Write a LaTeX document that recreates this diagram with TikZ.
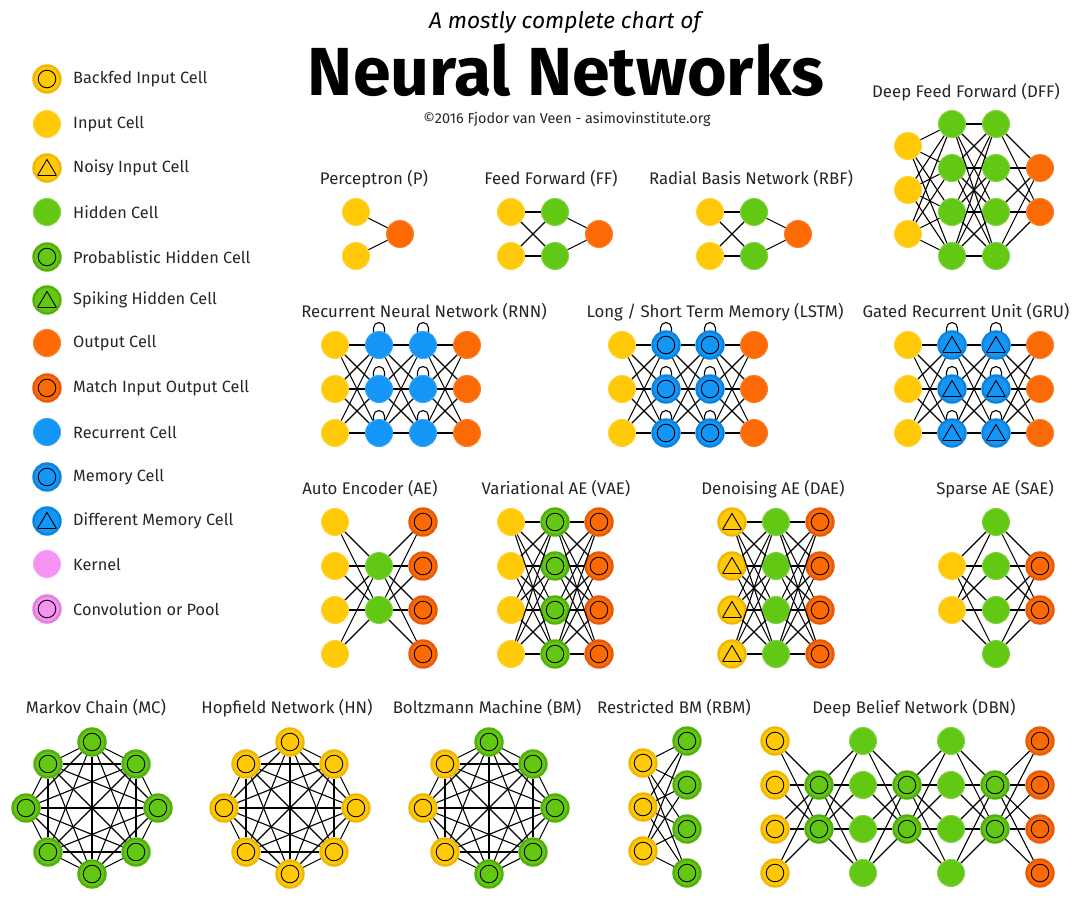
\documentclass[tikz,border=0pt]{standalone}
\usepackage{fontspec}
\setmainfont{Fira Sans}
\usetikzlibrary{backgrounds,calc}
\definecolor{cY}{HTML}{FFC908}
\definecolor{cYd}{HTML}{F0B800}
\definecolor{cG}{HTML}{62C814}
\definecolor{cGd}{HTML}{52B00C}
\definecolor{cO}{HTML}{FC6A05}
\definecolor{cOd}{HTML}{E85A08}
\definecolor{cB}{HTML}{1496F6}
\definecolor{cBd}{HTML}{0A84E0}
\definecolor{cP}{HTML}{F693F2}
\definecolor{cPd}{HTML}{E47FE0}
\tikzset{
  cell/.style={circle, minimum size=27pt, inner sep=0pt, line width=1pt},
  ringin/.style={path picture={\draw[line width=0.9pt,black] (path picture bounding box.center) circle (8.8pt);}},
  triin/.style={path picture={\draw[line width=0.9pt,black,line join=miter] ($(path picture bounding box.center)+(0pt,8.5pt)$) -- ++(-9.5pt,-16pt) -- ++(19pt,0pt) -- cycle;}},
  inp/.style={cell, fill=cY, draw=cY!80!white},
  bfin/.style={cell, fill=cY, draw=cYd, line width=2.4pt, ringin},
  noisy/.style={cell, fill=cY, draw=cYd, line width=2.4pt, triin},
  hid/.style={cell, fill=cG, draw=cG!80!white},
  prob/.style={cell, fill=cG, draw=cGd, line width=2.4pt, ringin},
  spike/.style={cell, fill=cG, draw=cGd, line width=2.4pt, triin},
  outc/.style={cell, fill=cO, draw=cO!85!white},
  match/.style={cell, fill=cO, draw=cOd, line width=2.4pt, ringin},
  rec/.style={cell, fill=cB, draw=cB!85!white},
  mem/.style={cell, fill=cB, draw=cBd, line width=2.4pt, ringin},
  dmem/.style={cell, fill=cB, draw=cBd, line width=2.4pt, triin},
  kern/.style={cell, fill=cP, draw=cP!85!white},
  conv/.style={cell, fill=cP, draw=cPd, line width=2.4pt, ringin},
  edge/.style={draw=black, line width=1.1pt},
  lbl/.style={font=\fontsize{16.3}{19}\selectfont, text=black!85, inner sep=0pt},
  ttl/.style={font=\fontsize{16.8}{19}\selectfont, text=black!85, inner sep=0pt},
}
\newcommand\layer[4]{\foreach \yy [count=\ii] in {#4} {\node[#2] (#1\ii) at (#3,\yy) {};}}
\newcommand\link[4]{\foreach \ii in {1,...,#2} {\foreach \jj in {1,...,#4} {\draw[edge] (#1\ii) -- (#3\jj);}}}
\newcommand\full[1]{\foreach \ii in {1,...,7} {\pgfmathtruncatemacro\nn{\ii+1}\foreach \jj in {\nn,...,8} {\draw[edge] (#1\ii) -- (#1\jj);}}}
\newcommand\selfloop[1]{\begin{scope}[on background layer]\draw[edge] ($(#1.center)+(-5.5pt,10pt)$) -- ++(0pt,7pt) arc[start angle=180, end angle=0, radius=5.5pt] -- ++(0pt,-7pt);\end{scope}}
\begin{document}
\begin{tikzpicture}[x=1pt,y=-1pt]
\begin{scope}[on background layer]
\fill[white] (0,0) rectangle (1080,913);
\end{scope}
\useasboundingbox (0,0) rectangle (1080,913);

% ---------- header ----------
\node[inner sep=0pt, font=\fontsize{22.7}{26}\selectfont\itshape] (sub) at (565,22) {A mostly complete chart of};
\node[inner sep=0pt, font=\fontsize{68}{74}\selectfont\bfseries] (main) at (566,70) {Neural Networks};
\node[inner sep=0pt, font=\fontsize{14.4}{17}\selectfont, text=black!85] (copy) at (567,119) {©2016 Fjodor van Veen - asimovinstitute.org};

% ---------- legend ----------
\foreach \yy/\st/\tx [count=\ii] in {79/bfin/Backfed Input Cell, 124/inp/Input Cell, 168/noisy/Noisy Input Cell, 212/hid/Hidden Cell, 257/prob/Probablistic Hidden Cell, 300/spike/Spiking Hidden Cell, 343/outc/Output Cell, 388/match/Match Input Output Cell, 432/rec/Recurrent Cell, 477/mem/Memory Cell, 521/dmem/Different Memory Cell, 564/kern/Kernel, 609/conv/Convolution or Pool}{
  \node[\st] (L\ii) at (47,\yy) {};
  \node[lbl, anchor=west] (LT\ii) at (73,\yy) {\tx};
}

% ---------- titles ----------
\node[ttl] (tP) at (374,179) {Perceptron (P)};
\node[ttl] (tFF) at (551,179) {Feed Forward (FF)};
\node[ttl] (tRBF) at (751,179) {Radial Basis Network (RBF)};
\node[ttl] (tDFF) at (966,92) {Deep Feed Forward (DFF)};
\node[ttl] (tRNN) at (424,312) {Recurrent Neural Network (RNN)};
\node[ttl] (tLSTM) at (715,312) {Long / Short Term Memory (LSTM)};
\node[ttl] (tGRU) at (966,312) {Gated Recurrent Unit (GRU)};
\node[ttl] (tAE) at (370,489) {Auto Encoder (AE)};
\node[ttl] (tVAE) at (556,489) {Variational AE (VAE)};
\node[ttl] (tDAE) at (773,489) {Denoising AE (DAE)};
\node[ttl] (tSAE) at (995,489) {Sparse AE (SAE)};
\node[ttl] (tMC) at (96,708) {Markov Chain (MC)};
\node[ttl] (tHN) at (287,708) {Hopfield Network (HN)};
\node[ttl] (tBM) at (487,708) {Boltzmann Machine (BM)};
\node[ttl] (tRBM) at (674,708) {Restricted BM (RBM)};
\node[ttl] (tDBN) at (914,708) {Deep Belief Network (DBN)};

% ---------- Perceptron ----------
\layer{Pa}{inp}{356}{212,256}
\layer{Pb}{outc}{400}{234}
\link{Pa}{2}{Pb}{1}

% ---------- FF ----------
\layer{Fa}{inp}{511}{212,256}
\layer{Fb}{hid}{555}{212,256}
\layer{Fc}{outc}{599}{234}
\link{Fa}{2}{Fb}{2}\link{Fb}{2}{Fc}{1}

% ---------- RBF ----------
\layer{Ra}{inp}{710}{212,256}
\layer{Rb}{hid}{754}{212,256}
\layer{Rc}{outc}{798}{234}
\link{Ra}{2}{Rb}{2}\link{Rb}{2}{Rc}{1}

% ---------- DFF ----------
\layer{Da}{inp}{908}{146,190,234}
\layer{Db}{hid}{952}{124,168,212,256}
\layer{Dc}{hid}{996}{124,168,212,256}
\layer{Dd}{outc}{1040}{168,212}
\link{Da}{3}{Db}{4}\link{Db}{4}{Dc}{4}\link{Dc}{4}{Dd}{2}

% ---------- RNN / LSTM / GRU ----------
\layer{Na}{inp}{335}{345,389,433}
\layer{Nb}{rec}{379}{345,389,433}
\layer{Nc}{rec}{423}{345,389,433}
\layer{Nd}{outc}{467}{345,389,433}
\link{Na}{3}{Nb}{3}\link{Nb}{3}{Nc}{3}\link{Nc}{3}{Nd}{3}
\layer{Ma}{inp}{622}{345,389,433}
\layer{Mb}{mem}{666}{345,389,433}
\layer{Mc}{mem}{710}{345,389,433}
\layer{Md}{outc}{754}{345,389,433}
\link{Ma}{3}{Mb}{3}\link{Mb}{3}{Mc}{3}\link{Mc}{3}{Md}{3}
\layer{Ga}{inp}{908}{345,389,433}
\layer{Gb}{dmem}{952}{345,389,433}
\layer{Gc}{dmem}{996}{345,389,433}
\layer{Gd}{outc}{1040}{345,389,433}
\link{Ga}{3}{Gb}{3}\link{Gb}{3}{Gc}{3}\link{Gc}{3}{Gd}{3}
\foreach \nm in {Nb,Nc,Mb,Mc,Gb,Gc}{\foreach \kk in {1,2,3}{\selfloop{\nm\kk}}}

% ---------- AE ----------
\layer{Aa}{inp}{335}{522,566,610,654}
\layer{Ab}{hid}{379}{566,610}
\layer{Ac}{match}{423}{522,566,610,654}
\link{Aa}{4}{Ab}{2}\link{Ab}{2}{Ac}{4}
% ---------- VAE ----------
\layer{Va}{inp}{511}{522,566,610,654}
\layer{Vb}{prob}{555}{522,566,610,654}
\layer{Vc}{match}{599}{522,566,610,654}
\link{Va}{4}{Vb}{4}\link{Vb}{4}{Vc}{4}
% ---------- DAE ----------
\layer{Ea}{noisy}{732}{522,566,610,654}
\layer{Eb}{hid}{776}{522,566,610,654}
\layer{Ec}{match}{820}{522,566,610,654}
\link{Ea}{4}{Eb}{4}\link{Eb}{4}{Ec}{4}
% ---------- SAE ----------
\layer{Sa}{inp}{952}{566,610}
\layer{Sb}{hid}{996}{522,566,610,654}
\layer{Sc}{match}{1040}{566,610}
\link{Sa}{2}{Sb}{4}\link{Sb}{4}{Sc}{2}

% ---------- MC ----------
\node[prob] (MC1) at (92,742) {};
\node[prob] (MC2) at (136,764) {};
\node[prob] (MC3) at (158,808) {};
\node[prob] (MC4) at (136,852) {};
\node[prob] (MC5) at (92,874) {};
\node[prob] (MC6) at (48,852) {};
\node[prob] (MC7) at (26,808) {};
\node[prob] (MC8) at (48,764) {};
\full{MC}
% ---------- HN ----------
\node[bfin] (HN1) at (290,742) {};
\node[bfin] (HN2) at (334,764) {};
\node[bfin] (HN3) at (356,808) {};
\node[bfin] (HN4) at (334,852) {};
\node[bfin] (HN5) at (290,874) {};
\node[bfin] (HN6) at (246,852) {};
\node[bfin] (HN7) at (224,808) {};
\node[bfin] (HN8) at (246,764) {};
\full{HN}
% ---------- BM ----------
\node[prob] (BM1) at (489,742) {};
\node[prob] (BM2) at (533,764) {};
\node[prob] (BM3) at (555,808) {};
\node[prob] (BM4) at (533,852) {};
\node[prob] (BM5) at (489,874) {};
\node[bfin] (BM6) at (445,852) {};
\node[bfin] (BM7) at (423,808) {};
\node[bfin] (BM8) at (445,764) {};
\full{BM}

% ---------- RBM ----------
\layer{Ba}{bfin}{643}{763,807,851}
\layer{Bb}{prob}{687}{741,785,829,873}
\link{Ba}{3}{Bb}{4}

% ---------- DBN ----------
\layer{Ka}{bfin}{775}{741,785,829,873}
\layer{Kb}{prob}{819}{785,829}
\layer{Kc}{hid}{863}{741,785,829,873}
\layer{Kd}{prob}{907}{785,829}
\layer{Ke}{hid}{951}{741,785,829,873}
\layer{Kf}{prob}{995}{785,829}
\layer{Kg}{match}{1040}{741,785,829,873}
\link{Ka}{4}{Kb}{2}\link{Kb}{2}{Kc}{4}\link{Kc}{4}{Kd}{2}\link{Kd}{2}{Ke}{4}\link{Ke}{4}{Kf}{2}\link{Kf}{2}{Kg}{4}
\end{tikzpicture}
\end{document}
